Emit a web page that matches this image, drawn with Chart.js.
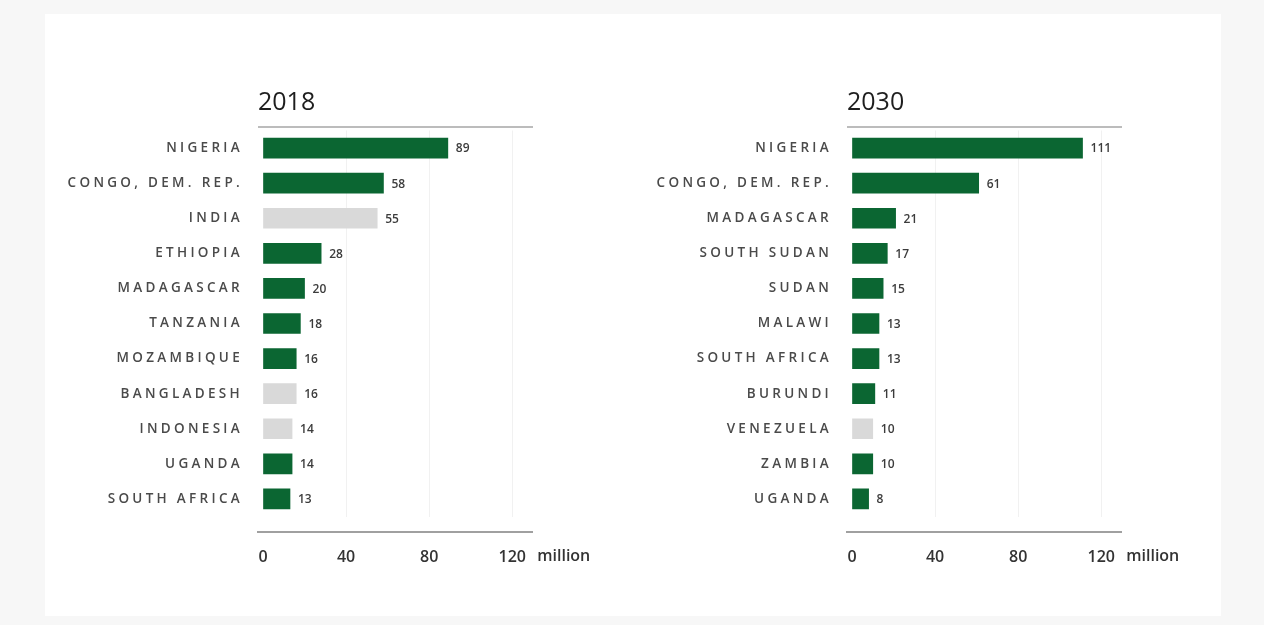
<!DOCTYPE html>
<html>
<head>
<meta charset="utf-8">
<script src="https://cdn.jsdelivr.net/npm/chart.js@4.4.1/dist/chart.umd.min.js"></script>
<style>
    body { margin: 0; background: #f7f7f7; width: 1264px; height: 625px; overflow: hidden; font-family: "Liberation Sans", Arial, sans-serif; }
    #painel { position: absolute; left: 45px; top: 14px; width: 1176px; height: 602px; background: #fff; }
    .caixa { position: absolute; top: 0; width: 632px; height: 625px; }
</style>
</head>
<body>
<div id="painel"></div>
<div class="caixa" style="left:0"><canvas id="grafico2018"></canvas></div>
<div class="caixa" style="left:589px"><canvas id="grafico2030"></canvas></div>
<script>
const paises2018 = ['NIGERIA', 'CONGO, DEM. REP.', 'INDIA', 'ETHIOPIA', 'MADAGASCAR', 'TANZANIA', 'MOZAMBIQUE', 'BANGLADESH', 'INDONESIA', 'UGANDA', 'SOUTH AFRICA'];
const valores2018 = [89, 58, 55, 28, 20, 18, 16, 16, 14, 14, 13];
const grupo2018 = ['africa', 'africa', 'outro', 'africa', 'africa', 'africa', 'africa', 'outro', 'outro', 'africa', 'africa'];

const paises2030 = ['NIGERIA', 'CONGO, DEM. REP.', 'MADAGASCAR', 'SOUTH SUDAN', 'SUDAN', 'MALAWI', 'SOUTH AFRICA', 'BURUNDI', 'VENEZUELA', 'ZAMBIA', 'UGANDA'];
const valores2030 = [111, 61, 21, 17, 15, 13, 13, 11, 10, 10, 8];
const grupo2030 = ['africa', 'africa', 'africa', 'africa', 'africa', 'africa', 'africa', 'africa', 'outro', 'africa', 'africa'];

const marcasEixo = [0, 40, 80, 120];

const CORES = {
    africa: '#0b6632',
    outro: '#d9d9d9',
    texto: '#333',
    grade: '#f1f1f1'
};

const FONTE = '"Open Sans", "Liberation Sans", Arial, sans-serif';

// desenha título, nomes dos países, linhas e os valores ao lado das barras
const rotulosPlugin = {
    id: 'rotulos',
    afterDatasetsDraw(chart, args, opts) {
        const { ctx, chartArea, scales } = chart;
        const meta = chart.getDatasetMeta(0);
        ctx.save();

        ctx.strokeStyle = '#7a7a7a';
        ctx.lineWidth = 1.2;
        ctx.beginPath();
        ctx.moveTo(chartArea.left - 5, chartArea.top - 3.5);
        ctx.lineTo(chartArea.right, chartArea.top - 3.5);
        ctx.stroke();

        ctx.strokeStyle = '#a0a0a0';
        ctx.lineWidth = 2;
        ctx.beginPath();
        ctx.moveTo(chartArea.left - 6, chartArea.bottom + 15.5);
        ctx.lineTo(chartArea.right, chartArea.bottom + 15.5);
        ctx.stroke();

        ctx.fillStyle = '#1e1e1e';
        ctx.font = '500 25px ' + FONTE;
        ctx.textAlign = 'left';
        ctx.textBaseline = 'alphabetic';
        ctx.fillText(opts.titulo, chartArea.left - 5, chartArea.top - 21);

        ctx.fillStyle = CORES.texto;
        ctx.font = '600 16px ' + FONTE;
        ctx.textBaseline = 'middle';
        ctx.fillText('million', scales.x.getPixelForValue(120) + 25, chartArea.bottom + 40);

        ctx.font = '600 13.5px ' + FONTE;
        ctx.letterSpacing = '3.3px';
        ctx.textAlign = 'right';
        ctx.fillStyle = '#4a4a4a';
        opts.nomes.forEach((nome, i) => {
            ctx.fillText(nome, chartArea.left - 20, scales.y.getPixelForTick(i));
        });

        ctx.letterSpacing = '0px';
        ctx.textAlign = 'left';
        ctx.font = '600 12px ' + FONTE;
        ctx.fillStyle = '#3c3c3c';
        meta.data.forEach((barra, i) => {
            ctx.fillText(String(opts.valores[i]), barra.x + 8, barra.y + 1);
        });
        ctx.restore();
    }
};

function criarGrafico(id, titulo, nomes, valores, grupos) {
    const el = document.getElementById(id);
    if (!el) {
        console.error('Elemento ' + id + ' não encontrado');
        return;
    }
    new Chart(el.getContext('2d'), {
        type: 'bar',
        data: {
            labels: nomes,
            datasets: [{
                data: valores,
                backgroundColor: grupos.map(g => CORES[g]),
                borderWidth: 0,
                barThickness: 20
            }]
        },
        options: {
            indexAxis: 'y',
            responsive: true,
            maintainAspectRatio: false,
            animation: false,
            layout: {
                padding: { top: 130.5, bottom: 58.5, left: 0, right: 99 }
            },
            scales: {
                x: {
                    min: 0,
                    max: 130,
                    afterBuildTicks: function(scale) {
                        scale.ticks = marcasEixo.map(v => ({ value: v }));
                    },
                    afterFit: function(scale) {
                        scale.height = 50;
                    },
                    ticks: {
                        padding: 31,
                        color: CORES.texto,
                        font: { size: 16, weight: '600', family: FONTE }
                    },
                    grid: {
                        drawTicks: false,
                        color: function(ctx) {
                            return ctx.tick && ctx.tick.value === 0 ? 'rgba(0,0,0,0)' : CORES.grade;
                        }
                    },
                    border: { display: false }
                },
                y: {
                    afterFit: function(scale) {
                        scale.width = 263;
                    },
                    ticks: { display: false },
                    grid: { display: false },
                    border: { display: false }
                }
            },
            plugins: {
                legend: { display: false },
                tooltip: { enabled: false },
                rotulos: { titulo: titulo, nomes: nomes, valores: valores }
            }
        },
        plugins: [rotulosPlugin]
    });
}

document.addEventListener('DOMContentLoaded', function() {
    criarGrafico('grafico2018', '2018', paises2018, valores2018, grupo2018);
    criarGrafico('grafico2030', '2030', paises2030, valores2030, grupo2030);
});
</script>
</body>
</html>
